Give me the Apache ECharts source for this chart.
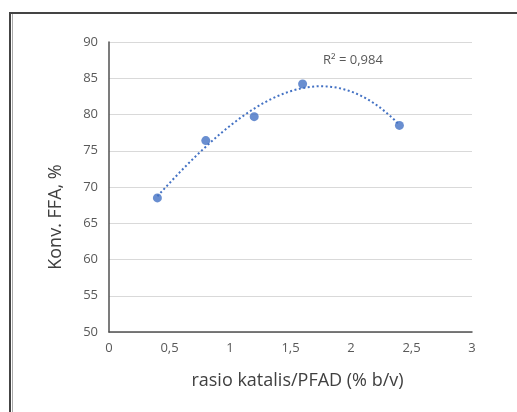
<!DOCTYPE html>
<html>
<head>
<meta charset="utf-8">
<script src="https://cdn.jsdelivr.net/npm/echarts@6/dist/echarts.min.js"></script>
<style>
  body { margin: 0; background: #fff; }
  .wrap { position: relative; width: 517px; height: 412px; }
  .chart { position: absolute; left: 0; top: 0; width: 517px; height: 412px; }
  /* bingkai luar seperti tangkapan layar */
  .frame { position: absolute; left: 9px; top: 12px; right: 0; bottom: 0;
           border-top: 2px solid #444; border-left: 2px solid #444; pointer-events: none; }
  .frame2 { position: absolute; left: 12px; top: 14px; bottom: 0; border-left: 1px solid #aaa; }
</style>
</head>
<body>
<div class="wrap">
  <div id="main" class="chart"></div>
  <div class="frame"></div>
  <div class="frame2"></div>
</div>
<script>
// data
const rasio = [0.4, 0.8, 1.2, 1.6, 2.4];
const konversi = [68.5, 76.4, 79.7, 84.2, 78.5];
const yTicks = [50, 55, 60, 65, 70, 75, 80, 85, 90];
const xTicks = [0, 0.5, 1, 1.5, 2, 2.5, 3];
const r2Label = 'R² = 0,984';
const polyOrder = 3;

// regresi polinomial (least squares) seperti trendline Excel
function polyFit(xs, ys, order) {
  const n = order + 1;
  const A = [];
  for (let i = 0; i < n; i++) {
    A.push([]);
    for (let j = 0; j <= n; j++) A[i].push(0);
  }
  xs.forEach((x, k) => {
    for (let i = 0; i < n; i++) {
      for (let j = 0; j < n; j++) A[i][j] += Math.pow(x, i + j);
      A[i][n] += Math.pow(x, i) * ys[k];
    }
  });
  for (let c = 0; c < n; c++) {
    let p = c;
    for (let r = c + 1; r < n; r++) if (Math.abs(A[r][c]) > Math.abs(A[p][c])) p = r;
    [A[c], A[p]] = [A[p], A[c]];
    for (let r = 0; r < n; r++) {
      if (r === c) continue;
      const f = A[r][c] / A[c][c];
      for (let j = c; j <= n; j++) A[r][j] -= f * A[c][j];
    }
  }
  return A.map((row, i) => row[n] / row[i]);
}

const coef = polyFit(rasio, konversi, polyOrder);
const xMin = Math.min(...rasio), xMax = Math.max(...rasio);
const trend = [];
for (let i = 0; i <= 100; i++) {
  const x = xMin + (xMax - xMin) * i / 100;
  trend.push([x, coef.reduce((s, c, k) => s + c * Math.pow(x, k), 0)]);
}

const fmt = (v) => String(v).replace('.', ',');
const fontFam = '"Open Sans", "Noto Sans", sans-serif';

const myChart = echarts.init(document.getElementById('main'));
const option = {
  animation: false,
  grid: { left: 109, right: 45, top: 42, bottom: 80 },
  xAxis: {
    type: 'value',
    min: xTicks[0],
    max: xTicks[xTicks.length - 1],
    interval: 0.5,
    name: 'rasio katalis/PFAD (% b/v)',
    nameLocation: 'middle',
    nameGap: 40,
    nameTextStyle: { fontSize: 18, color: '#404040', fontFamily: fontFam, padding: [0, 0, 0, 14] },
    axisLine: { show: true, lineStyle: { color: '#505050', width: 1.5 } },
    axisTick: { show: false },
    axisLabel: { fontSize: 13, color: '#595959', margin: 10, fontFamily: fontFam, formatter: fmt },
    splitLine: { show: false }
  },
  yAxis: {
    type: 'value',
    min: yTicks[0],
    max: yTicks[yTicks.length - 1],
    interval: 5,
    name: 'Konv. FFA, %',
    nameLocation: 'middle',
    nameGap: 44,
    nameTextStyle: { fontSize: 18, color: '#404040', fontFamily: fontFam, padding: [0, 60, 0, 0] },
    axisLine: { show: true, lineStyle: { color: '#505050', width: 1.5 } },
    axisTick: { show: false },
    axisLabel: { fontSize: 13, color: '#595959', margin: 11, fontFamily: fontFam },
    splitLine: { lineStyle: { color: '#d9d9d9', width: 1 } }
  },
  graphic: [
    {
      type: 'text',
      left: 323,
      top: 54,
      style: { text: r2Label, fontSize: 13, fill: '#595959', fontFamily: fontFam }
    }
  ],
  series: [
    {
      name: 'Trendline',
      type: 'line',
      data: trend,
      showSymbol: false,
      smooth: false,
      lineStyle: { color: '#4472C4', width: 2, type: [2, 2.5] },
      z: 2
    },
    {
      name: 'Konversi FFA',
      type: 'scatter',
      data: rasio.map((x, i) => [x, konversi[i]]),
      symbolSize: 9,
      itemStyle: { color: '#4472C4' },
      z: 3
    }
  ]
};
myChart.setOption(option);
</script>
</body>
</html>
